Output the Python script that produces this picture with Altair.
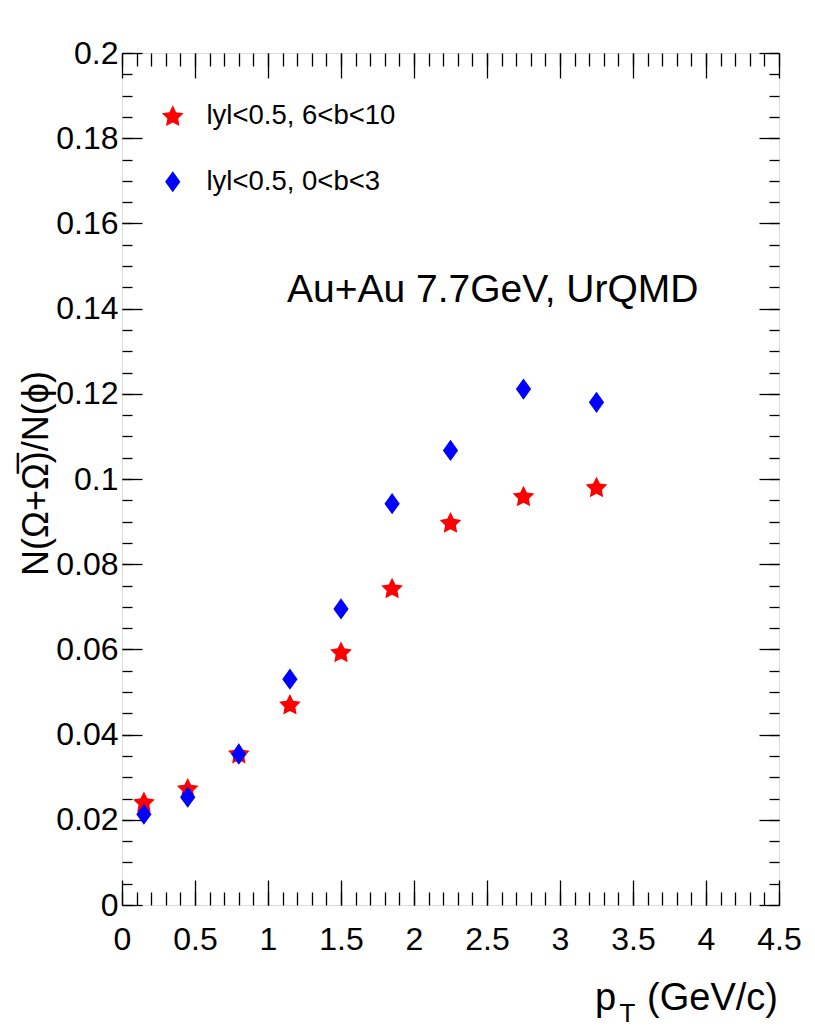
import math
import altair as alt
import pandas as pd

# ---------------- data ----------------
pt = [0.15, 0.45, 0.8, 1.15, 1.5, 1.85, 2.25, 2.75, 3.25]
ratio_peripheral = [0.0242, 0.0274, 0.0356, 0.0471, 0.0594, 0.0744, 0.0898, 0.0960, 0.0981]
ratio_central = [0.0213, 0.0253, 0.0354, 0.0530, 0.0695, 0.0942, 0.1067, 0.1211, 0.1180]
series_names = ["lyl<0.5, 6<b<10", "lyl<0.5, 0<b<3"]

x_major = [0, 0.5, 1, 1.5, 2, 2.5, 3, 3.5, 4, 4.5]
x_minor = [round(i * 0.1, 2) for i in range(46)]
y_major = [0, 0.02, 0.04, 0.06, 0.08, 0.1, 0.12, 0.14, 0.16, 0.18, 0.2]
y_minor = [round(i * 0.005, 3) for i in range(41)]

df = pd.DataFrame({
    "pt": pt + pt,
    "ratio": ratio_peripheral + ratio_central,
    "series": [series_names[0]] * len(pt) + [series_names[1]] * len(pt),
})

# ---------------- style ----------------
W, H = 657, 852
FONT = "Liberation Sans, Arial, Helvetica, sans-serif"


def star_path(r_in=0.5):
    pts = []
    for k in range(10):
        a = math.radians(-90 + 36 * k)
        r = 1.0 if k % 2 == 0 else r_in
        pts.append(f"{r * math.cos(a):.4f},{r * math.sin(a) + 0.09:.4f}")
    return "M" + "L".join(pts) + "Z"


STAR = star_path()
DIAMOND = "M0,-0.93L0.67,0L0,0.93L-0.67,0Z"

xs = alt.Scale(domain=[0, 4.5], nice=False, zero=False)
ys = alt.Scale(domain=[0, 0.2], nice=False, zero=False)

legend = alt.Legend(
    orient="none", legendX=37, legendY=49, title=None, padding=0,
    symbolSize=520, symbolStrokeWidth=0, symbolOpacity=1,
    labelFont=FONT, labelFontSize=27.5, labelColor="black",
    labelOffset=20, rowPadding=37, labelLimit=400,
)

points = alt.Chart(df).mark_point(filled=True, opacity=1, size=520, strokeWidth=0).encode(
    x=alt.X("pt:Q", scale=xs, axis=alt.Axis(
        orient="bottom", values=x_major, ticks=False, tickSize=0, domain=False, grid=False,
        labelFont=FONT, labelFontSize=32, labelColor="black", labelPadding=19,
        labelExpr="format(datum.value, '.1~f')", labelFlush=False, labelOverlap=False,
        title=None)),
    y=alt.Y("ratio:Q", scale=ys, axis=alt.Axis(
        orient="left", values=y_major, ticks=False, tickSize=0, domain=False, grid=False,
        labelFont=FONT, labelFontSize=32, labelColor="black", labelPadding=4,
        labelExpr="format(datum.value, '.2~f')", labelFlush=False, labelOverlap=False,
        title="N(Ω+Ω\u0305)/N(\u03d5)", titleFont=FONT, titleFontSize=36, titleFontWeight="normal",
        titleColor="black", titleX=-75, titleY=420, titleAlign="center",
        titleBaseline="alphabetic", titleAngle=270)),
    color=alt.Color("series:N", scale=alt.Scale(domain=series_names, range=["#ff0000", "#0000ff"]),
                    legend=legend),
    shape=alt.Shape("series:N", scale=alt.Scale(domain=series_names, range=[STAR, DIAMOND]),
                    legend=legend),
)


def tick_layer(xorient, yorient, xvals, yvals, xlen, ylen):
    return alt.Chart(df).mark_point(opacity=0).encode(
        x=alt.X("pt:Q", scale=xs, axis=alt.Axis(
            orient=xorient, offset=-H, values=xvals, labels=False, domain=False, grid=False,
            ticks=True, tickSize=xlen, tickColor="black", tickWidth=1.3, title=None)),
        y=alt.Y("ratio:Q", scale=ys, axis=alt.Axis(
            orient=yorient, offset=-W, values=yvals, labels=False, domain=False, grid=False,
            ticks=True, tickSize=ylen, tickColor="black", tickWidth=1.3, title=None)),
    )


ticks = [
    tick_layer("top", "right", x_major, y_major, 25, 20),
    tick_layer("top", "right", x_minor, y_minor, 13, 10),
    tick_layer("bottom", "left", x_major, y_major, 25, 20),
    tick_layer("bottom", "left", x_minor, y_minor, 13, 10),
]

one = alt.Data(values=[{}])
annot = alt.Chart(one).mark_text(
    text="Au+Au 7.7GeV, UrQMD", font=FONT, fontSize=39, align="left",
    baseline="alphabetic", color="black").encode(x=alt.value(165), y=alt.value(249))
t_p = alt.Chart(one).mark_text(
    text="p", font=FONT, fontSize=38, align="left", baseline="alphabetic",
    color="black").encode(x=alt.value(473), y=alt.value(957))
t_T = alt.Chart(one).mark_text(
    text="T", font=FONT, fontSize=26, align="left", baseline="alphabetic",
    color="black").encode(x=alt.value(497.5), y=alt.value(969))
t_unit = alt.Chart(one).mark_text(
    text="(GeV/c)", font=FONT, fontSize=38, align="right", baseline="alphabetic",
    color="black").encode(x=alt.value(656), y=alt.value(957))

chart = alt.layer(points, *ticks, annot, t_p, t_T, t_unit).resolve_axis(
    x="independent", y="independent"
).properties(
    width=W, height=H, autosize="none",
    padding={"left": 114, "top": 45, "right": 28, "bottom": 124},
).configure_view(stroke="black", strokeWidth=2).configure(background="white")

chart.save("out.html", embed_options={"renderer": "svg", "actions": False})
